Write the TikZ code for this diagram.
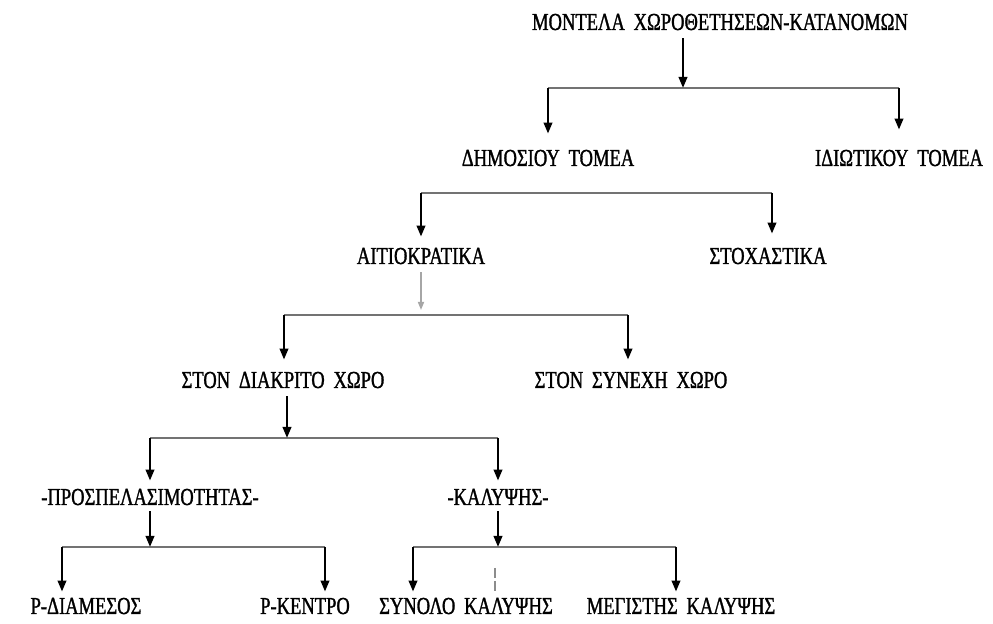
\documentclass[tikz,border=0pt]{standalone}
\usepackage{fontspec}
\setmainfont{Liberation Serif}[FakeStretch=0.76,WordSpace=1.9,FakeBold=1.2]
\usetikzlibrary{arrows.meta}
\begin{document}
\begin{tikzpicture}[x=0.5pt,y=-0.5pt,
  lbl/.style={inner sep=0pt, text height=8pt, text depth=0pt, font=\fontsize{12.2}{14}\selectfont},
  bus/.style={draw=black!55, line width=1.1pt},
  arr/.style={draw=black, line width=1.2pt, -{Triangle[length=5.5pt,width=4.2pt]}},
  faint/.style={draw=black!35, line width=0.8pt, -{Triangle[length=4pt,width=3pt]}}]
\useasboundingbox (0,0) rectangle (993,624);
% nodes
\node[lbl] (root) at (720,22) {ΜΟΝΤΕΛΑ ΧΩΡΟΘΕΤΗΣΕΩΝ-ΚΑΤΑΝΟΜΩΝ};
\node[lbl] (dim) at (548,158) {ΔΗΜΟΣΙΟΥ ΤΟΜΕΑ};
\node[lbl] (idi) at (899,158) {ΙΔΙΩΤΙΚΟΥ ΤΟΜΕΑ};
\node[lbl] (ait) at (421,256) {ΑΙΤΙΟΚΡΑΤΙΚΑ};
\node[lbl] (sto) at (768,256) {ΣΤΟΧΑΣΤΙΚΑ};
\node[lbl] (dia) at (283,380) {ΣΤΟΝ ΔΙΑΚΡΙΤΟ ΧΩΡΟ};
\node[lbl] (syn) at (631,380) {ΣΤΟΝ ΣΥΝΕΧΗ ΧΩΡΟ};
\node[lbl] (pro) at (150,497) {-ΠΡΟΣΠΕΛΑΣΙΜΟΤΗΤΑΣ-};
\node[lbl] (kal) at (498,497) {-ΚΑΛΥΨΗΣ-};
\node[lbl] (pdi) at (86,606) {Ρ-ΔΙΑΜΕΣΟΣ};
\node[lbl] (pke) at (305,606) {Ρ-ΚΕΝΤΡΟ};
\node[lbl] (sk) at (466,606) {ΣΥΝΟΛΟ ΚΑΛΥΨΗΣ};
\node[lbl] (mk) at (681,606) {ΜΕΓΙΣΤΗΣ ΚΑΛΥΨΗΣ};
% junctions
\coordinate (j1) at (683,88);
\coordinate (j1l) at (548,88);
\coordinate (j1r) at (899,88);
\coordinate (j2l) at (421,193);
\coordinate (j2r) at (772,193);
\coordinate (j3) at (421,315);
\coordinate (j3l) at (284,315);
\coordinate (j3r) at (628,315);
\coordinate (j4) at (287,438);
\coordinate (j4l) at (150,438);
\coordinate (j4r) at (498,438);
\coordinate (j5) at (150,547);
\coordinate (j5a) at (62,547);
\coordinate (j5b) at (325,547);
\coordinate (j6) at (498,547);
\coordinate (j6a) at (413,547);
\coordinate (j6b) at (676,547);
% buses
\draw[bus] (j1l) -- (j1r);
\draw[bus] (j2l) -- (j2r);
\draw[bus] (j3l) -- (j3r);
\draw[bus] (j4l) -- (j4r);
\draw[bus] (j5a) -- (j5b);
\draw[bus] (j6a) -- (j6b);
% arrows
\draw[arr, shorten <=4pt] (root.south -| j1) -- (j1);
\draw[arr, shorten >=8pt] (j1l) -- (j1l |- dim.north);
\draw[arr, shorten >=10pt] (j1r) -- (j1r |- idi.north);
\draw[arr, shorten >=5.5pt] (j2l) -- (j2l |- ait.north);
\draw[arr, shorten >=7pt] (j2r) -- (j2r |- sto.north);
\draw[faint, shorten <=4pt, shorten >=2.5pt] (ait.south -| j3) -- (j3);
\draw[arr, shorten >=6pt] (j3l) -- (j3l |- dia.north);
\draw[arr, shorten >=6pt] (j3r) -- (j3r |- syn.north);
\draw[arr, shorten <=4pt] (dia.south -| j4) -- (j4);
\draw[arr, shorten >=4pt] (j4l) -- (j4l |- pro.north);
\draw[arr, shorten >=4pt] (j4r) -- (j4r |- kal.north);
\draw[arr, shorten <=3pt] (pro.south -| j5) -- (j5);
\draw[arr, shorten <=3pt] (kal.south -| j6) -- (j6);
\draw[arr, shorten >=3pt] (j5a) -- (j5a |- pdi.north);
\draw[arr, shorten >=3pt] (j5b) -- (j5b |- pke.north);
\draw[arr, shorten >=3pt] (j6a) -- (j6a |- sk.north);
\draw[arr, shorten >=3pt] (j6b) -- (j6b |- mk.north);
% broken mark
\draw[black!45, line width=0.6pt, dash pattern=on 5pt off 1.5pt] (495,568) -- (495,592);
\end{tikzpicture}
\end{document}
